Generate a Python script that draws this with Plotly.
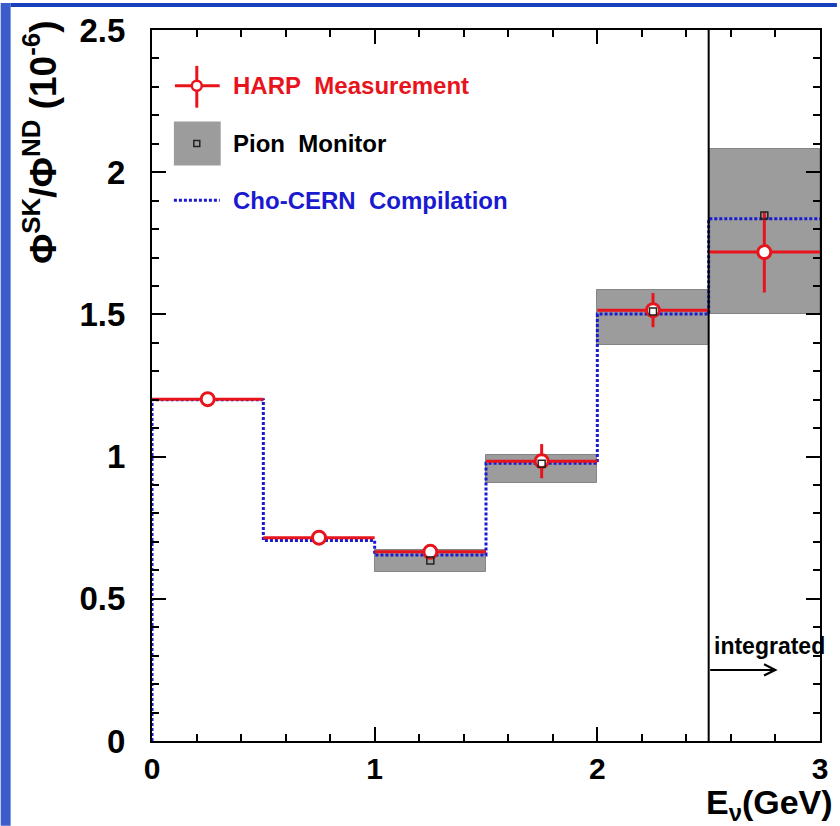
import plotly.graph_objects as go

# ---------------- data ----------------
bin_edges = [0.0, 0.5, 1.0, 1.5, 2.0, 2.5, 3.0]
bin_centers = [0.25, 0.75, 1.25, 1.75, 2.25, 2.75]
bin_halfwidth = [0.25, 0.25, 0.25, 0.25, 0.25, 0.25]

harp_value = [1.202, 0.715, 0.665, 0.984, 1.515, 1.719]
harp_error = [0.005, 0.005, 0.015, 0.060, 0.060, 0.142]

cho_value = [1.200, 0.705, 0.654, 0.977, 1.501, 1.836]

pion_centers = [1.25, 1.75, 2.25, 2.75]
pion_value = [0.635, 0.975, 1.510, 1.848]
pion_low = [0.595, 0.908, 1.392, 1.501]
pion_high = [0.672, 1.004, 1.587, 2.083]

x_tick_vals = [0, 1, 2, 3]
x_tick_text = ["0", "1", "2", "3"]
y_tick_vals = [0, 0.5, 1, 1.5, 2, 2.5]
y_tick_text = ["0", "0.5", "1", "1.5", "2", "2.5"]

integrated_edge = 2.5

# ---------------- layout geometry ----------------
W, H = 840, 826
ML, MR, MT, MB = 152, 17, 27, 85
PW, PH = W - ML - MR, H - MT - MB


def px(xp):
    return (xp - ML) / PW


def py(yp):
    return (H - MB - yp) / PH


FONT = "Liberation Sans, Arial, Helvetica, sans-serif"
RED = "#e8141c"
BLUE = "#1a1ad0"
GRAY = "#9c9c9c"

fig = go.Figure()

# Pion monitor boxes
fig.add_trace(go.Bar(
    x=pion_centers,
    y=[h - l for h, l in zip(pion_high, pion_low)],
    base=pion_low,
    width=0.5,
    marker=dict(color=GRAY, line=dict(color="#858585", width=1)),
    showlegend=False, hoverinfo="skip",
))

# Cho-CERN step line
step_x = [bin_edges[0]] + bin_edges[:-1] + [bin_edges[-1]]
step_y = [0] + cho_value + [cho_value[-1]]
fig.add_trace(go.Scatter(
    x=step_x, y=step_y, mode="lines", line_shape="hv",
    line=dict(color=BLUE, width=3, dash="3px,2px"),
    showlegend=False, hoverinfo="skip",
))

# HARP measurement
fig.add_trace(go.Scatter(
    x=bin_centers, y=harp_value, mode="markers",
    marker=dict(symbol="circle", size=13, color="white",
                line=dict(color=RED, width=3)),
    error_x=dict(type="data", array=bin_halfwidth, color=RED, thickness=3, width=0),
    error_y=dict(type="data", array=harp_error, color=RED, thickness=3, width=0),
    showlegend=False, hoverinfo="skip",
))

# Pion monitor central values
fig.add_trace(go.Scatter(
    x=pion_centers, y=pion_value, mode="markers",
    marker=dict(symbol="square-open", size=7, color="#222222", line=dict(width=1.5)),
    showlegend=False, hoverinfo="skip",
))

shapes = []
annotations = []

# vertical separator at 2.5 GeV
shapes.append(dict(type="line", xref="x", yref="y", x0=integrated_edge, x1=integrated_edge,
                   y0=0, y1=2.5, line=dict(color="black", width=2), layer="above"))

# arrow + "integrated"
annotations.append(dict(x=2.81, y=0.25, ax=integrated_edge, ay=0.25, xref="x", yref="y",
                        axref="x", ayref="y", showarrow=True, arrowhead=5, arrowsize=1.1,
                        arrowwidth=2, arrowcolor="black", text=""))
annotations.append(dict(x=2.515, y=0.335, xref="x", yref="y", text="integrated",
                        showarrow=False, xanchor="left", yanchor="middle",
                        font=dict(family=FONT, size=23, color="black", weight="bold")))

# slide background strips
shapes.append(dict(type="rect", xref="paper", yref="paper", x0=px(0), x1=px(10),
                   y0=py(H), y1=py(0), fillcolor="#3d5ccc", line=dict(width=0), layer="below"))
shapes.append(dict(type="rect", xref="paper", yref="paper", x0=px(10), x1=px(W),
                   y0=py(4), y1=py(0), fillcolor="#1840bd", line=dict(width=0), layer="below"))

# legend: HARP
shapes.append(dict(type="line", xref="paper", yref="paper", x0=px(175), x1=px(220),
                   y0=py(83), y1=py(83), line=dict(color=RED, width=3)))
shapes.append(dict(type="line", xref="paper", yref="paper", x0=px(197), x1=px(197),
                   y0=py(63), y1=py(105), line=dict(color=RED, width=3)))
shapes.append(dict(type="circle", xref="paper", yref="paper", x0=px(192), x1=px(202),
                   y0=py(88), y1=py(78), fillcolor="white", line=dict(color=RED, width=2.5)))
# legend: Pion
shapes.append(dict(type="rect", xref="paper", yref="paper", x0=px(174), x1=px(221),
                   y0=py(163), y1=py(119), fillcolor=GRAY, line=dict(width=0)))
shapes.append(dict(type="rect", xref="paper", yref="paper", x0=px(194), x1=px(200),
                   y0=py(144), y1=py(138), line=dict(color="#222222", width=1.5)))
# legend: Cho
shapes.append(dict(type="line", xref="paper", yref="paper", x0=px(174), x1=px(220),
                   y0=py(198), y1=py(198), line=dict(color=BLUE, width=3, dash="3px,2px")))

leg = [("HARP\u00a0\u00a0Measurement", RED, 83),
       ("Pion\u00a0\u00a0Monitor", "black", 141),
       ("Cho-CERN\u00a0\u00a0Compilation", BLUE, 198)]
for txt, col, yy in leg:
    annotations.append(dict(x=px(231), y=py(yy), xref="paper", yref="paper", text=txt,
                            showarrow=False, xanchor="left", yanchor="middle",
                            font=dict(family=FONT, size=24, color=col, weight="bold")))

# axis titles
annotations.append(dict(x=px(40), y=py(140), xref="paper", yref="paper", textangle=-90,
                        text="Φ<sup>SK</sup>/Φ<sup>ND</sup> (10<sup>-6</sup>)",
                        showarrow=False, xanchor="center", yanchor="middle",
                        font=dict(family=FONT, size=37, color="black", weight="bold")))
annotations.append(dict(x=px(838), y=py(805), xref="paper", yref="paper",
                        text="E<sub>ν</sub>(GeV)",
                        showarrow=False, xanchor="right", yanchor="middle",
                        font=dict(family=FONT, size=34, color="black", weight="bold")))

axis_common = dict(showgrid=False, zeroline=False, showline=True, linecolor="black",
                   linewidth=2, ticks="inside", tickcolor="black", tickwidth=2,
                   ticklen=14, mirror="allticks")

fig.update_layout(
    width=W, height=H, autosize=False,
    margin=dict(l=ML, r=MR, t=MT, b=MB, pad=0),
    paper_bgcolor="white", plot_bgcolor="white",
    xaxis=dict(range=[0, 3], tickvals=x_tick_vals, ticktext=x_tick_text,
               tickfont=dict(family=FONT, size=30, color="black", weight="bold"),
               minor=dict(dtick=0.2, tick0=0, ticks="inside", ticklen=7,
                          tickcolor="black", tickwidth=2),
               **axis_common),
    yaxis=dict(range=[0, 2.5], tickvals=y_tick_vals, ticktext=y_tick_text,
               ticklabelstandoff=18,
               tickfont=dict(family=FONT, size=33, color="black", weight="bold"),
               minor=dict(dtick=0.1, tick0=0, ticks="inside", ticklen=7,
                          tickcolor="black", tickwidth=2),
               **axis_common),
    shapes=shapes, annotations=annotations,
    bargap=0, showlegend=False,
)

fig.write_html("out.html")
